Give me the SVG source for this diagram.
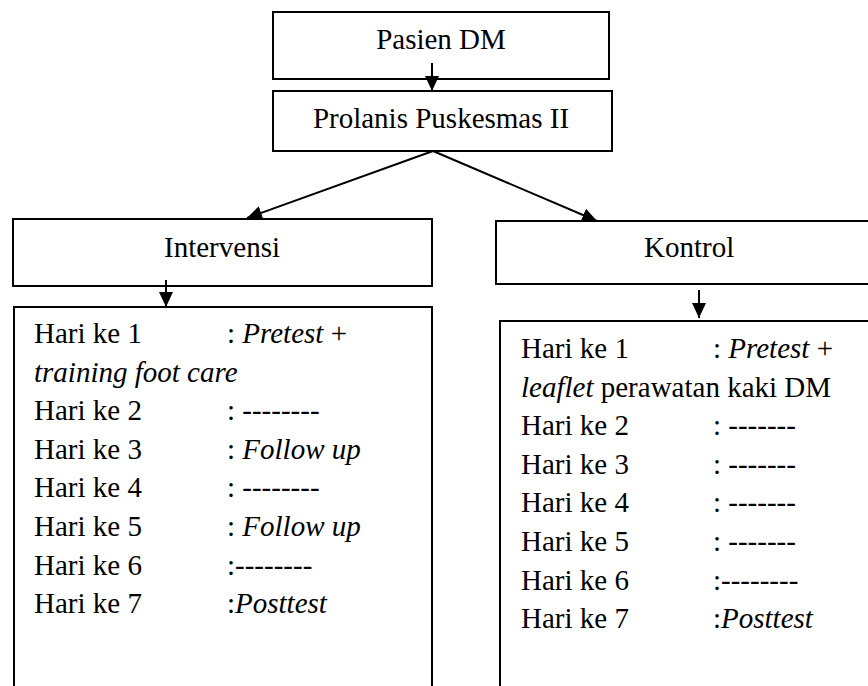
<svg xmlns="http://www.w3.org/2000/svg" width="868" height="686" viewBox="0 0 868 686" font-family="'Liberation Serif', 'Times New Roman', Times, serif">
<style>
.box{fill:#fff;stroke:#000;stroke-width:2}
text{font-family:'Liberation Serif','Times New Roman',Times,serif;font-size:29px;fill:#000}
.c{text-anchor:middle}
.i{font-style:italic}
.conn{stroke:#000;stroke-width:2;fill:none}
</style>
<defs>
<marker id="ah" markerUnits="userSpaceOnUse" markerWidth="16" markerHeight="14" refX="15" refY="7" orient="auto">
<path d="M0,0 L15,7 L0,14 Z" fill="#000"/>
</marker>
</defs>
<rect width="868" height="686" fill="#fff"/>
<g id="pasien"><rect class="box" x="273" y="12" width="336" height="67"/><text class="c" x="441" y="49">Pasien DM</text></g>
<g id="prolanis"><rect class="box" x="273" y="91" width="339" height="60"/><text class="c" x="441" y="128">Prolanis Puskesmas II</text></g>
<g id="intervensi"><rect class="box" x="13" y="219" width="419" height="67"/><text class="c" x="222" y="257">Intervensi</text></g>
<g id="kontrol"><rect class="box" x="496" y="221" width="400" height="63"/><text x="644" y="257">Kontrol</text></g>
<g id="jadwal-intervensi">
<rect class="box" x="14" y="307" width="418" height="400"/>
<text x="34" y="343">Hari ke 1</text><text x="227" y="343">: <tspan class="i">Pretest</tspan> +</text>
<text x="34" y="381.6" class="i">training foot care</text>
<text x="34" y="420.2">Hari ke 2</text><text x="227" y="420.2">: --------</text>
<text x="34" y="458.8">Hari ke 3</text><text x="227" y="458.8">: <tspan class="i">Follow up</tspan></text>
<text x="34" y="497.4">Hari ke 4</text><text x="227" y="497.4">: --------</text>
<text x="34" y="536">Hari ke 5</text><text x="227" y="536">: <tspan class="i">Follow up</tspan></text>
<text x="34" y="574.6">Hari ke 6</text><text x="227" y="574.6">:--------</text>
<text x="34" y="613.2">Hari ke 7</text><text x="227" y="613.2">:<tspan class="i">Posttest</tspan></text>
</g>
<g id="jadwal-kontrol">
<rect class="box" x="500" y="321" width="400" height="400"/>
<text x="521" y="358">Hari ke 1</text><text x="713" y="358">: <tspan class="i">Pretest</tspan> +</text>
<text x="521" y="396.6"><tspan class="i">leaflet</tspan> perawatan kaki DM</text>
<text x="521" y="435.2">Hari ke 2</text><text x="713" y="435.2">: -------</text>
<text x="521" y="473.8">Hari ke 3</text><text x="713" y="473.8">: -------</text>
<text x="521" y="512.4">Hari ke 4</text><text x="713" y="512.4">: -------</text>
<text x="521" y="551">Hari ke 5</text><text x="713" y="551">: -------</text>
<text x="521" y="589.6">Hari ke 6</text><text x="713" y="589.6">:--------</text>
<text x="521" y="628.2">Hari ke 7</text><text x="713" y="628.2">:<tspan class="i">Posttest</tspan></text>
</g>
<g id="connectors">
<line class="conn" x1="432" y1="63" x2="432" y2="91" marker-end="url(#ah)"/>
<line class="conn" x1="433" y1="151" x2="247" y2="218" marker-end="url(#ah)"/>
<line class="conn" x1="433" y1="151" x2="597" y2="221" marker-end="url(#ah)"/>
<line class="conn" x1="166" y1="280" x2="166" y2="307" marker-end="url(#ah)"/>
<line class="conn" x1="699" y1="290" x2="699" y2="318" marker-end="url(#ah)"/>
</g>
</svg>
